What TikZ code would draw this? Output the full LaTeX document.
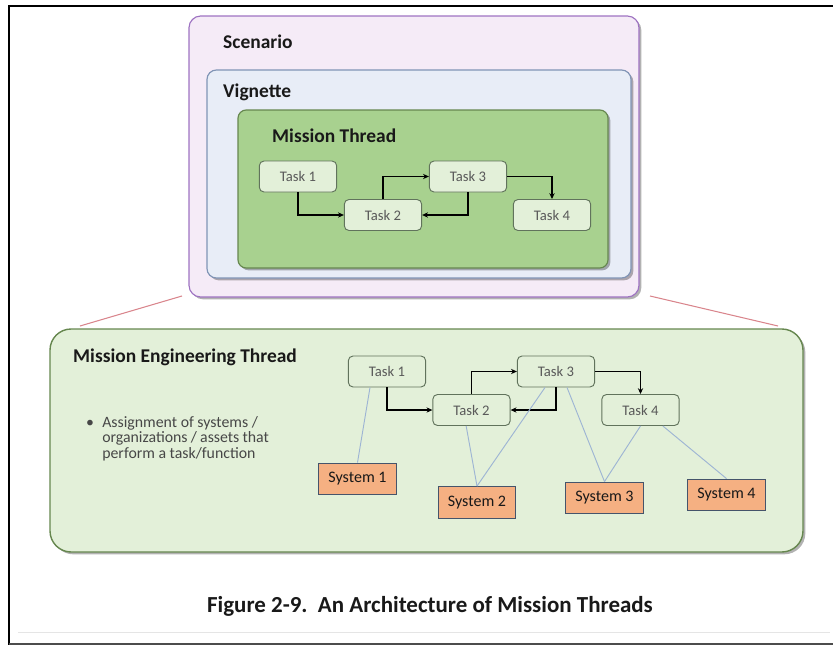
\documentclass[tikz,border=0pt]{standalone}
\usepackage{fontspec}
\setmainfont{Carlito}
\usetikzlibrary{arrows.meta}
\usetikzlibrary{positioning}
\usetikzlibrary{shadows}
\definecolor{scenfill}{rgb}{0.96, 0.92, 0.97}
\definecolor{scenline}{rgb}{0.62, 0.45, 0.76}
\definecolor{vigfill}{rgb}{0.91, 0.93, 0.97}
\definecolor{vigline}{rgb}{0.50, 0.58, 0.71}
\definecolor{mtfill}{rgb}{0.66, 0.82, 0.56}
\definecolor{mtline}{rgb}{0.40, 0.53, 0.31}
\definecolor{metfill}{rgb}{0.89, 0.94, 0.85}
\definecolor{taskline}{rgb}{0.38, 0.45, 0.36}
\definecolor{tasktext}{rgb}{0.35, 0.35, 0.35}
\definecolor{sysfill}{rgb}{0.96, 0.69, 0.51}
\definecolor{sysline}{rgb}{0.27, 0.33, 0.42}
\definecolor{linkblue}{rgb}{0.62, 0.71, 0.83}
\definecolor{zoomred}{rgb}{0.85, 0.52, 0.55}
\definecolor{ink}{rgb}{0.10, 0.10, 0.10}
\tikzset{
  task/.style={draw=taskline, fill=metfill, line width=0.8pt, rounded corners=4pt,
    minimum width=2.32cm, minimum height=0.93cm, inner sep=0pt,
    text=tasktext, font=\fontsize{12.5}{12.5}\selectfont},
  sysbox/.style={draw=sysline, fill=sysfill, line width=1pt,
    minimum width=2.32cm, minimum height=0.95cm, inner sep=0pt,
    text=ink, font=\fontsize{13.7}{13.7}\selectfont},
  flow/.style={line width=1.3pt, -{Stealth[length=5pt, width=4.5pt]}},
  link/.style={linkblue, line width=0.8pt},
  title/.style={anchor=west, inner sep=0pt, text=ink, font=\fontsize{16.6}{16.6}\selectfont\bfseries},
  boxshadow/.style={drop shadow={shadow xshift=2pt, shadow yshift=-2pt, opacity=0.3, fill=black}}
}

\begin{document}
\begin{tikzpicture}[x=0.03cm, y=-0.03cm]

      \useasboundingbox (0, 0) rectangle (833, 645);
      \draw [line width=2pt] (833, 6) -- (9, 6) -- (9, 645);
      \draw [line width=2pt, black!70] (9, 644) -- (833, 644);
      \draw [line width=0.8pt, black!10] (18, 632) -- (830, 632);

      \draw [scenline, fill=scenfill, line width=1pt, rounded corners=10pt, boxshadow] (189, 16) rectangle (639, 297);
      \node [title] (scen) at (223, 42) {Scenario};
      \draw [vigline, fill=vigfill, line width=1pt, rounded corners=8pt, boxshadow] (207, 70) rectangle (631, 278);
      \node [title] (vig) at (223, 92) {Vignette};
      \draw [mtline, fill=mtfill, line width=1pt, rounded corners=7pt, boxshadow] (238, 110) rectangle (608, 268);
      \node [title] (mt) at (272, 136) {Mission Thread};

      \node [task] (t1) at (298, 176.5) {Task 1};
      \node [task] (t2) at (383, 215) {Task 2};
      \node [task] (t3) at (468, 176.5) {Task 3};
      \node [task] (t4) at (552, 215) {Task 4};
      \draw [flow] (t1.south) |- (t2.west);
      \draw [flow] (t2.north) |- (t3.west);
      \draw [flow] (t3.south) |- (t2.east);
      \draw [flow] (t3.east) -| (t4.north);

      \coordinate (zl) at (182, 296);
      \coordinate (zr) at (650, 296);
      \coordinate (ml) at (80, 326);
      \coordinate (mr) at (778, 326);
      \draw [zoomred, line width=0.9pt] (zl) -- (ml);
      \draw [zoomred, line width=0.9pt] (zr) -- (mr);

      \draw [mtline, fill=metfill, line width=1.2pt, rounded corners=18pt, boxshadow] (50, 329) rectangle (803, 552);
      \node [title] (met) at (73, 357) {Mission Engineering Thread};
      \node [anchor=north west, inner sep=0pt, text=black!72, font=\fontsize{13.5}{13.3}\selectfont,
        align=left] (bullet) at (86, 416) {•\hspace{7pt}\parbox[t]{5cm}{Assignment of systems /\\
        organizations / assets that\\ perform a task/function}};

      \node [task] (l1) at (387, 371.5) {Task 1};
      \node [task] (l2) at (471.5, 410) {Task 2};
      \node [task] (l3) at (556, 371.5) {Task 3};
      \node [task] (l4) at (640.5, 410) {Task 4};
      \draw [flow] (l1.south) |- (l2.west);
      \draw [flow] (l2.north) |- (l3.west);
      \draw [flow] (l3.south) |- (l2.east);
      \draw [flow] (l3.east) -| (l4.north);

      \node [sysbox] (s1) at (357.5, 479) {System 1};
      \node [sysbox] (s2) at (477, 502.5) {System 2};
      \node [sysbox] (s3) at (604.5, 498) {System 3};
      \node [sysbox] (s4) at (726.5, 495) {System 4};
      \draw [link] ([xshift=-0.51cm]l1.south) -- (s1.north);
      \draw [link] ([xshift=-0.16cm]l2.south) -- (s2.north);
      \draw [link] ([xshift=-0.33cm]l3.south) -- (s2.north);
      \draw [link] ([xshift=0.33cm]l3.south) -- (s3.north);
      \draw [link] (l4.south) -- (s3.north);
      \draw [link] ([xshift=0.67cm]l4.south) -- (s4.north);

      \node [text=ink, inner sep=0pt, font=\fontsize{19.6}{19.6}\selectfont\bfseries] (cap) at (430, 606)
        {Figure 2-9.\ \ An Architecture of Mission Threads};
    \end{tikzpicture}
\end{document}
